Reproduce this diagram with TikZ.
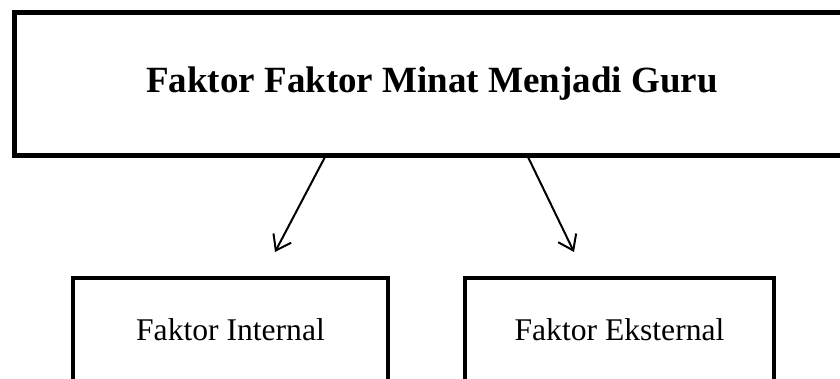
\documentclass[tikz,border=0pt]{standalone}
\usepackage{fontspec}
\setmainfont{Liberation Serif}
\usetikzlibrary{arrows.meta}
\begin{document}
\begin{tikzpicture}[x=1pt,y=-1pt,
  topbox/.style={draw=black,line width=5pt,minimum width=836pt,minimum height=143pt,inner sep=0pt,font=\fontsize{37}{44}\selectfont\bfseries},
  subbox/.style={draw=black,line width=4pt,minimum height=104pt,inner sep=0pt,font=\fontsize{31.6}{38}\selectfont},
  arr/.style={line width=2pt,-{Straight Barb[length=14pt,width=20pt,line width=2pt]}}]
\useasboundingbox (0,0) rectangle (840,378);
\clip (0,0) rectangle (840,378);
\node[topbox] (top) at (432,83.5) {Faktor Faktor Minat Menjadi Guru};
\node[subbox,minimum width=315pt] (int) at (230.5,330) {Faktor Internal};
\node[subbox,minimum width=309pt] (ext) at (619.5,330) {Faktor Eksternal};
\coordinate (s1) at (325,157);
\coordinate (e1) at (275,252);
\coordinate (s2) at (528,157);
\coordinate (e2) at (574,252);
\draw[arr] (s1) -- (e1);
\draw[arr] (s2) -- (e2);
\end{tikzpicture}
\end{document}
